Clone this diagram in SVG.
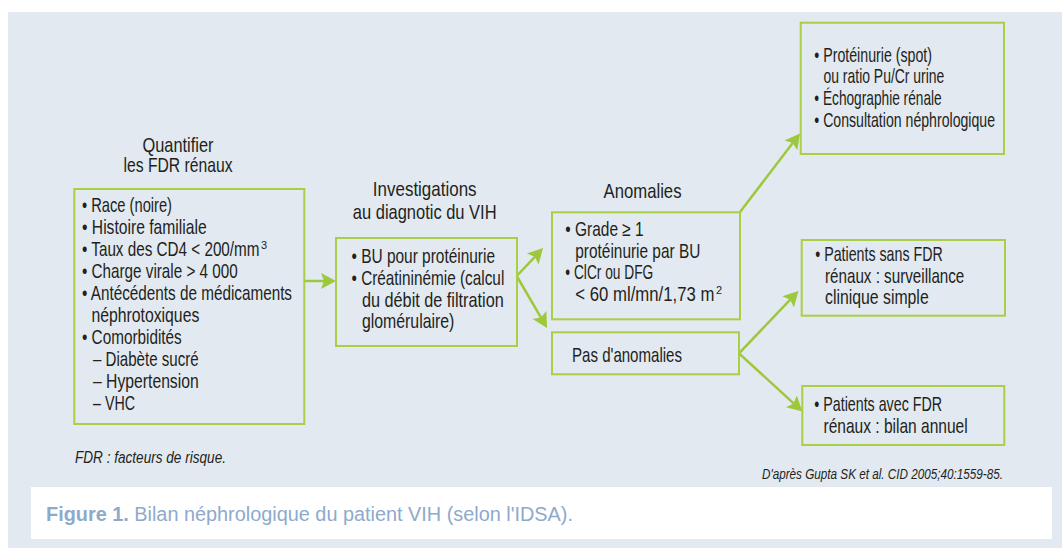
<svg xmlns="http://www.w3.org/2000/svg" width="1062" height="548" viewBox="0 0 1062 548">
<style>
.t{font-family:"Liberation Sans",Arial,sans-serif;font-size:20px;fill:#231f20}
.ti{font-family:"Liberation Sans",Arial,sans-serif;font-style:italic;fill:#231f20}
.box{fill:none;stroke:#a8cf45;stroke-width:2}
.conn{fill:none;stroke:#9dc83c;stroke-width:2.5;marker-end:url(#ah)}
.cap{font-family:"Liberation Sans",Arial,sans-serif;font-size:20px;fill:#8eaacb}
.sup{font-family:"Liberation Sans",Arial,sans-serif;font-size:11px;fill:#231f20}
.m{text-anchor:middle}
</style>
<defs>
<marker id="ah" markerUnits="userSpaceOnUse" viewBox="-1 -9 17 18" markerWidth="17" markerHeight="18" refX="3" refY="0" orient="auto">
<path d="M0,-8 L15,0 L0,8 L3,0 Z" fill="#9dc83c"/>
</marker>
</defs>
<rect x="0" y="0" width="1062" height="548" fill="#ffffff"/>
<rect x="8" y="12" width="1054" height="536" fill="#e2e9f0"/>
<rect x="31" y="487" width="1021" height="52" fill="#ffffff"/>

<g id="connectors">
<path class="conn" d="M304.5,281 L324,281"/>
<path class="conn" d="M516.7,276 L534.8,256.8"/>
<path class="conn" d="M516.7,276 L541,317.6"/>
<path class="conn" d="M740,212 L792.7,143"/>
<path class="conn" d="M739,353.3 L790.2,299.7"/>
<path class="conn" d="M739,353.3 L793.6,403.4"/>
</g>

<g id="node-fdr">
<text class="t m" transform="matrix(0.72 0 0 1 178 152)" textLength="98.6" lengthAdjust="spacingAndGlyphs">Quantifier</text>
<text class="t m" transform="matrix(0.72 0 0 1 178 172.3)" textLength="151.4" lengthAdjust="spacingAndGlyphs">les FDR rénaux</text>
<rect class="box" x="74.3" y="189" width="230" height="235"/>
<text class="t" transform="matrix(0.72 0 0 1 82 211.5)" textLength="125" lengthAdjust="spacingAndGlyphs">• Race (noire)</text>
<text class="t" transform="matrix(0.72 0 0 1 82 233.6)" textLength="173.2" lengthAdjust="spacingAndGlyphs">• Histoire familiale</text>
<text class="t" transform="matrix(0.72 0 0 1 82 255.7)" textLength="246.5" lengthAdjust="spacingAndGlyphs">• Taux des CD4 &lt; 200/mm</text>
<text class="sup" x="261" y="248.5">3</text>
<text class="t" transform="matrix(0.72 0 0 1 82 277.8)" textLength="216.3" lengthAdjust="spacingAndGlyphs">• Charge virale &gt; 4 000</text>
<text class="t" transform="matrix(0.72 0 0 1 82 299.9)" textLength="291.7" lengthAdjust="spacingAndGlyphs">• Antécédents de médicaments</text>
<text class="t" transform="matrix(0.72 0 0 1 91.5 322)" textLength="149.7" lengthAdjust="spacingAndGlyphs">néphrotoxiques</text>
<text class="t" transform="matrix(0.72 0 0 1 82 344.1)" textLength="138.5" lengthAdjust="spacingAndGlyphs">• Comorbidités</text>
<text class="t" transform="matrix(0.72 0 0 1 93 366.2)" textLength="146.8" lengthAdjust="spacingAndGlyphs">– Diabète sucré</text>
<text class="t" transform="matrix(0.72 0 0 1 93 388.3)" textLength="146.8" lengthAdjust="spacingAndGlyphs">– Hypertension</text>
<text class="t" transform="matrix(0.72 0 0 1 93 410.4)" textLength="58.3" lengthAdjust="spacingAndGlyphs">– VHC</text>
</g>

<g id="node-investigations">
<text class="t m" transform="matrix(0.72 0 0 1 424.7 195.7)" textLength="144" lengthAdjust="spacingAndGlyphs">Investigations</text>
<text class="t m" transform="matrix(0.72 0 0 1 424.7 219)" textLength="199.6" lengthAdjust="spacingAndGlyphs">au diagnotic du VIH</text>
<rect class="box" x="336" y="238" width="181" height="108"/>
<text class="t" transform="matrix(0.72 0 0 1 351.5 263.3)" textLength="199.3" lengthAdjust="spacingAndGlyphs">• BU pour protéinurie</text>
<text class="t" transform="matrix(0.72 0 0 1 351.5 285)" textLength="212.2" lengthAdjust="spacingAndGlyphs">• Créatininémie (calcul</text>
<text class="t" transform="matrix(0.72 0 0 1 362 306.7)" textLength="196.8" lengthAdjust="spacingAndGlyphs">du débit de filtration</text>
<text class="t" transform="matrix(0.72 0 0 1 362 328.4)" textLength="128.2" lengthAdjust="spacingAndGlyphs">glomérulaire)</text>
</g>

<g id="node-anomalies">
<text class="t m" transform="matrix(0.72 0 0 1 642.5 198.3)" textLength="108.3" lengthAdjust="spacingAndGlyphs">Anomalies</text>
<rect class="box" x="552" y="212.3" width="188" height="107"/>
<text class="t" transform="matrix(0.72 0 0 1 565.3 235.7)" textLength="108.9" lengthAdjust="spacingAndGlyphs">• Grade ≥ 1</text>
<text class="t" transform="matrix(0.72 0 0 1 575.3 257.5)" textLength="173.6" lengthAdjust="spacingAndGlyphs">protéinurie par BU</text>
<text class="t" transform="matrix(0.72 0 0 1 565.3 279.3)" textLength="122.2" lengthAdjust="spacingAndGlyphs">• ClCr ou DFG</text>
<text class="t" transform="matrix(0.72 0 0 1 575.3 301)" textLength="193.1" lengthAdjust="spacingAndGlyphs">&lt; 60 ml/mn/1,73 m</text>
<text class="sup" x="716" y="293.8">2</text>
</g>

<g id="node-pas-anomalies">
<rect class="box" x="552" y="332.3" width="187" height="42"/>
<text class="t" transform="matrix(0.72 0 0 1 572 361.7)" textLength="152.8" lengthAdjust="spacingAndGlyphs">Pas d'anomalies</text>
</g>

<g id="node-examens">
<rect class="box" x="800.7" y="22.7" width="203.3" height="131.3"/>
<text class="t" transform="matrix(0.72 0 0 1 814.3 61.5)" textLength="163.5" lengthAdjust="spacingAndGlyphs">• Protéinurie (spot)</text>
<text class="t" transform="matrix(0.72 0 0 1 823.5 83.3)" textLength="167.8" lengthAdjust="spacingAndGlyphs">ou ratio Pu/Cr urine</text>
<text class="t" transform="matrix(0.72 0 0 1 814.3 105)" textLength="176.9" lengthAdjust="spacingAndGlyphs">• Échographie rénale</text>
<text class="t" transform="matrix(0.72 0 0 1 814.3 127)" textLength="251" lengthAdjust="spacingAndGlyphs">• Consultation néphrologique</text>
</g>

<g id="node-sans-fdr">
<rect class="box" x="801.7" y="240" width="203.3" height="75.7"/>
<text class="t" transform="matrix(0.72 0 0 1 815.3 260.7)" textLength="176.9" lengthAdjust="spacingAndGlyphs">• Patients sans FDR</text>
<text class="t" transform="matrix(0.72 0 0 1 825 282.7)" textLength="193.5" lengthAdjust="spacingAndGlyphs">rénaux : surveillance</text>
<text class="t" transform="matrix(0.72 0 0 1 825 304.4)" textLength="144" lengthAdjust="spacingAndGlyphs">clinique simple</text>
</g>

<g id="node-avec-fdr">
<rect class="box" x="802.3" y="386" width="202" height="59"/>
<text class="t" transform="matrix(0.72 0 0 1 814.3 411)" textLength="177.4" lengthAdjust="spacingAndGlyphs">• Patients avec FDR</text>
<text class="t" transform="matrix(0.72 0 0 1 823.5 432.7)" textLength="200.3" lengthAdjust="spacingAndGlyphs">rénaux : bilan annuel</text>
</g>

<g id="notes">
<text class="ti" font-size="17" transform="matrix(0.82 0 0 1 75 463.3)" textLength="184.1" lengthAdjust="spacingAndGlyphs">FDR : facteurs de risque.</text>
<text class="ti" font-size="15" text-anchor="end" transform="matrix(0.77 0 0 1 1003 479)" textLength="313" lengthAdjust="spacingAndGlyphs">D'après Gupta SK et al. CID 2005;40:1559-85.</text>
<text class="cap" x="46" y="521" textLength="527" lengthAdjust="spacingAndGlyphs"><tspan font-weight="bold">Figure 1.</tspan> Bilan néphrologique du patient VIH (selon l'IDSA).</text>
</g>
</svg>
